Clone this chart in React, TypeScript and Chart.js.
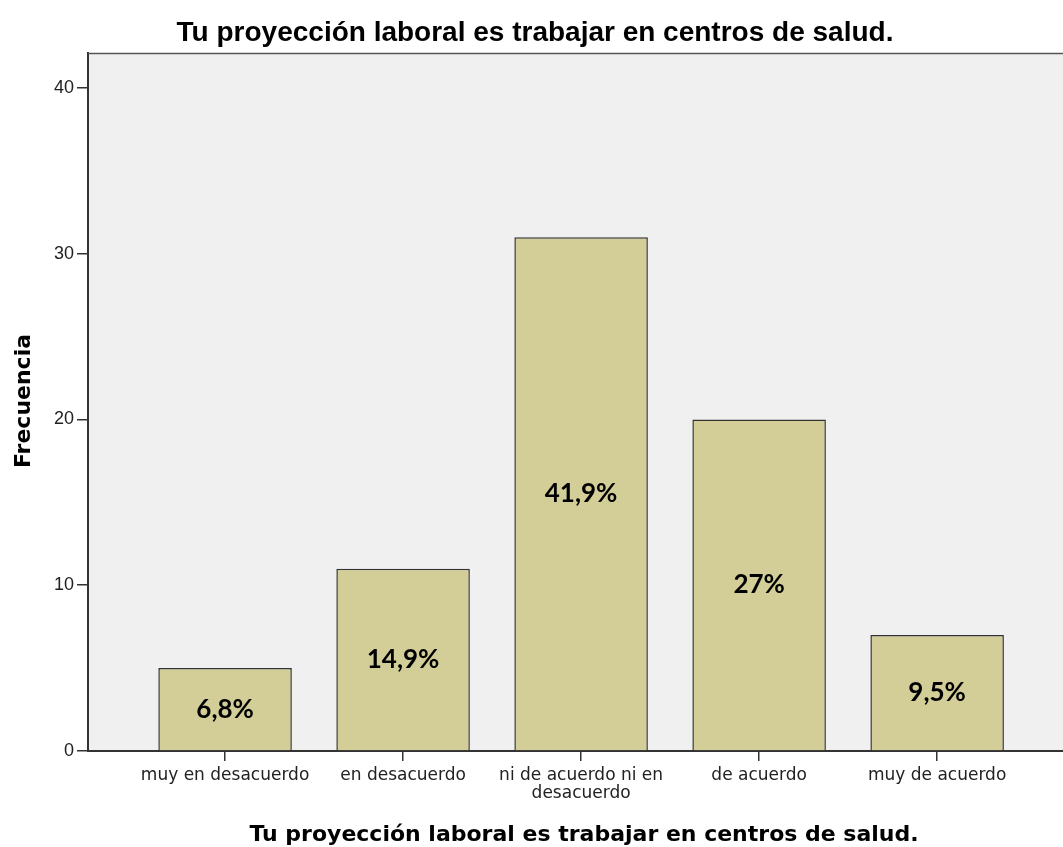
import React, { useEffect, useRef } from "react";
import { Chart, registerables } from "chart.js";

Chart.register(...registerables);

const categories: string[][] = [
  ["muy en desacuerdo"],
  ["en desacuerdo"],
  ["ni de acuerdo ni en", "desacuerdo"],
  ["de acuerdo"],
  ["muy de acuerdo"],
];
const frequencies: number[] = [5, 11, 31, 20, 7];
const percentLabels: string[] = ["6,8%", "14,9%", "41,9%", "27%", "9,5%"];
const yTicks: number[] = [0, 10, 20, 30, 40];
const chartTitle = "Tu proyección laboral es trabajar en centros de salud.";
const xTitle = "Tu proyección laboral es trabajar en centros de salud.";
const yTitle = "Frecuencia";

const W = 1063;
const H = 847;
const AXIS = "#333333";

const decorPlugin = {
  id: "decor",
  beforeDraw(chart: any) {
    const { ctx, chartArea } = chart;
    ctx.save();
    ctx.fillStyle = "#ffffff";
    ctx.fillRect(0, 0, W, H);
    ctx.fillStyle = "#f0f0f0";
    ctx.fillRect(chartArea.left, chartArea.top, chartArea.right - chartArea.left, chartArea.bottom - chartArea.top);
    ctx.restore();
  },
  afterDraw(chart: any) {
    const { ctx, chartArea } = chart;
    ctx.save();
    // top border
    ctx.strokeStyle = "#555555";
    ctx.lineWidth = 1.5;
    ctx.beginPath();
    ctx.moveTo(chartArea.left, chartArea.top + 0.5);
    ctx.lineTo(chartArea.right, chartArea.top + 0.5);
    ctx.stroke();

    // percent labels
    const meta = chart.getDatasetMeta(0);
    ctx.fillStyle = "#000000";
    ctx.font = "bold 26px Lato";
    ctx.textAlign = "center";
    ctx.textBaseline = "middle";
    meta.data.forEach((bar: any, i: number) => {
      const cy = (bar.y + bar.base) / 2;
      ctx.fillText(percentLabels[i], bar.x, cy);
    });

    // main title
    ctx.font = "bold 28px 'Liberation Sans'";
    ctx.textBaseline = "alphabetic";
    ctx.fillText(chartTitle, 535, 41);

    // x title
    ctx.font = "bold 22px 'DejaVu Sans'";
    ctx.fillText(xTitle, 584, 841);

    // y title
    ctx.translate(30, 401);
    ctx.rotate(-Math.PI / 2);
    ctx.font = "bold 22px 'DejaVu Sans'";
    ctx.fillText(yTitle, 0, 0);
    ctx.restore();
  },
};

export default function App() {
  const ref = useRef<HTMLCanvasElement>(null);
  useEffect(() => {
    document.body.style.margin = "0";
    const canvas = ref.current!;
    const chart = new Chart(canvas, {
      type: "bar",
      data: {
        datasets: [
          {
            data: frequencies.map((v, i) => ({ x: i, y: v })),
            backgroundColor: "#d3ce98",
            borderColor: AXIS,
            borderWidth: 1.5,
            barPercentage: 0.75,
            categoryPercentage: 1,
          },
        ],
      },
      options: {
        animation: false,
        responsive: false,
        maintainAspectRatio: false,
        layout: { padding: { top: 53, left: 0, right: 0, bottom: 0 } },
        plugins: {
          legend: { display: false },
          tooltip: { enabled: false },
          title: { display: false },
        },
        scales: {
          x: {
            type: "linear",
            offset: false,
            min: -0.77,
            max: 4.707,
            afterBuildTicks: (scale: any) => {
              scale.ticks = categories.map((_, i) => ({ value: i }));
            },
            afterFit: (scale: any) => {
              scale.height = 96;
            },
            ticks: {
              autoSkip: false,
              maxRotation: 0,
              padding: 5,
              color: "#222222",
              font: { family: "'DejaVu Sans'", size: 17, lineHeight: 1.1 },
              callback: (v: any) => categories[Math.round(Number(v))] ?? "",
            },
            grid: {
              offset: false,
              drawOnChartArea: false,
              drawTicks: true,
              tickLength: 10,
              color: AXIS,
              lineWidth: 1.5,
            },
            border: { display: true, color: AXIS, width: 2 },
          },
          y: {
            min: 0,
            max: 42.11,
            afterBuildTicks: (scale: any) => {
              scale.ticks = yTicks.map((v) => ({ value: v }));
            },
            afterFit: (scale: any) => {
              scale.width = 88;
            },
            ticks: {
              padding: 3,
              color: "#222222",
              font: { family: "'Liberation Sans'", size: 18 },
            },
            grid: {
              drawOnChartArea: false,
              drawTicks: true,
              tickLength: 11,
              color: AXIS,
              lineWidth: 1.5,
            },
            border: { display: true, color: AXIS, width: 2 },
          },
        },
      },
      plugins: [decorPlugin],
    });
    return () => chart.destroy();
  }, []);
  return <canvas ref={ref} width={W} height={H} style={{ display: "block", width: W, height: H }} />;
}
